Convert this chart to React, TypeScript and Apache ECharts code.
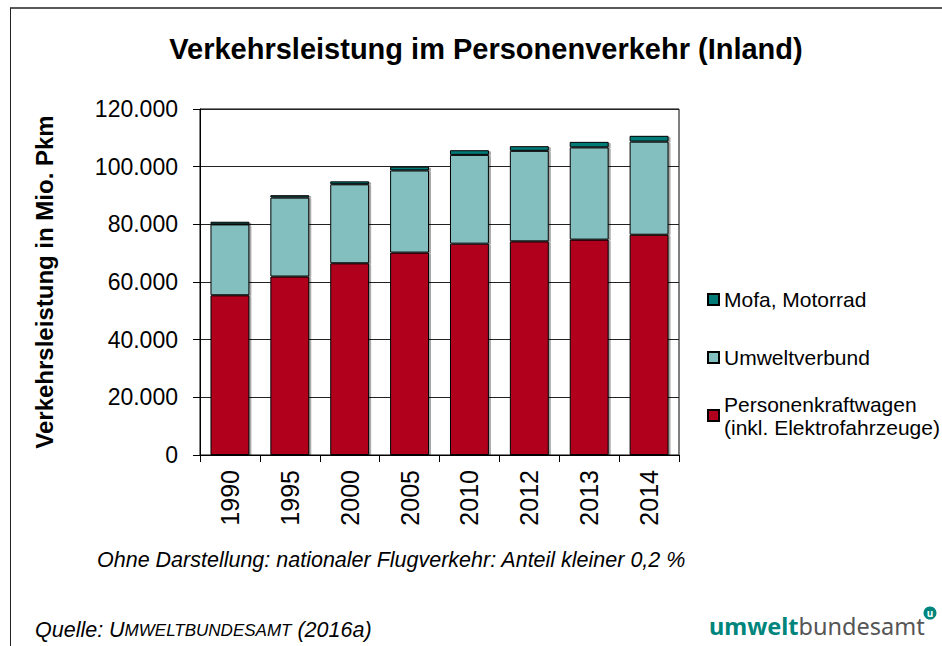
import React, { useEffect, useRef } from "react";
import * as echarts from "echarts";

const years = ["1990", "1995", "2000", "2005", "2010", "2012", "2013", "2014"];
const pkw = [55400, 61900, 66500, 70200, 73300, 74100, 74700, 76400];
const umweltverbund = [24600, 27400, 27400, 28500, 30800, 31400, 32000, 32300];
const mofa = [900, 800, 1000, 1300, 1600, 1600, 1900, 2000];

const FONT = "'Liberation Sans', Arial, sans-serif";

export default function App() {
  const ref = useRef<HTMLDivElement>(null);

  useEffect(() => {
    if (!ref.current) return;
    const chart = echarts.init(ref.current, undefined, { renderer: "svg" });
    const barStyle = (color: string) => ({
      color,
      borderColor: "#000",
      borderWidth: 1,
      shadowColor: "rgba(0,0,0,0.35)",
      shadowOffsetX: 2,
      shadowOffsetY: 1,
      shadowBlur: 1,
    });
    const legendBase = {
      orient: "vertical",
      left: 707,
      padding: 0,
      itemWidth: 11,
      itemHeight: 11,
      icon: "rect",
      selectedMode: false,
      textStyle: { fontFamily: FONT, fontSize: 21, color: "#000" },
    };
    chart.setOption({
      animation: false,
      backgroundColor: "#fff",
      textStyle: { fontFamily: FONT },
      title: {
        text: "Verkehrsleistung im Personenverkehr (Inland)",
        left: 481,
        top: 29,
        textAlign: "center",
        textStyle: { fontFamily: FONT, fontSize: 29, fontWeight: "bold", color: "#000" },
      },
      legend: [
        { ...legendBase, top: 289, data: ["Mofa, Motorrad"] },
        { ...legendBase, top: 347, data: ["Umweltverbund"] },
        {
          ...legendBase,
          top: 381,
          data: ["Personenkraftwagen"],
          formatter: () => "Personenkraftwagen\n(inkl. Elektrofahrzeuge)",
          textStyle: { ...legendBase.textStyle, lineHeight: 23, padding: [23, 0, 0, 0] },
        },
      ],
      grid: {
        left: 200,
        right: 263,
        top: 109,
        bottom: 191,
        show: true,
        borderColor: "#000",
        borderWidth: 1,
        backgroundColor: "transparent",
      },
      xAxis: {
        type: "category",
        data: years,
        axisLine: { lineStyle: { color: "#000", width: 1 } },
        axisTick: { show: true, length: 7, lineStyle: { color: "#000" } },
        axisLabel: {
          rotate: 90,
          margin: 15,
          fontSize: 25,
          fontFamily: FONT,
          color: "#000",
        },
      },
      yAxis: {
        type: "value",
        min: 0,
        max: 120000,
        interval: 20000,
        name: "Verkehrsleistung in Mio. Pkm",
        nameLocation: "middle",
        nameGap: 144,
        nameTextStyle: { fontFamily: FONT, fontSize: 24, fontWeight: "bold", color: "#000" },
        axisLine: { show: true, lineStyle: { color: "#000", width: 1 } },
        axisTick: { show: true, length: 7, lineStyle: { color: "#000" } },
        splitLine: { show: true, lineStyle: { color: "#222", width: 1 } },
        axisLabel: {
          margin: 22,
          fontSize: 23,
          fontFamily: FONT,
          color: "#000",
          formatter: (v: number) => v.toLocaleString("de-DE"),
        },
      },
      series: [
        {
          name: "Personenkraftwagen",
          type: "bar",
          stack: "total",
          barWidth: "65%",
          data: pkw,
          itemStyle: barStyle("#B0001E"),
        },
        {
          name: "Umweltverbund",
          type: "bar",
          stack: "total",
          data: umweltverbund,
          itemStyle: barStyle("#84BFBF"),
        },
        {
          name: "Mofa, Motorrad",
          type: "bar",
          stack: "total",
          data: mofa,
          itemStyle: barStyle("#007B78"),
        },
      ],
      graphic: [
        {
          type: "line",
          shape: { x1: 10, y1: 8, x2: 942, y2: 8 },
          style: { stroke: "#595959", lineWidth: 2 },
          silent: true,
        },
        {
          type: "line",
          shape: { x1: 10.5, y1: 8, x2: 10.5, y2: 646 },
          style: { stroke: "#222", lineWidth: 1 },
          silent: true,
        },
        {
          type: "text",
          left: 97,
          top: 549,
          style: {
            text: "Ohne Darstellung: nationaler Flugverkehr: Anteil kleiner 0,2 %",
            fontFamily: FONT,
            fontSize: 21.5,
            fontStyle: "italic",
            fill: "#000",
          },
        },
        {
          type: "text",
          left: 35,
          top: 619,
          style: {
            text: "{a|Quelle: U}{b|MWELTBUNDESAMT}{a| (2016a)}",
            fontFamily: FONT,
            fill: "#000",
            rich: {
              a: { fontFamily: FONT, fontSize: 21.5, fontStyle: "italic", fill: "#000" },
              b: { fontFamily: FONT, fontSize: 17, fontStyle: "italic", fill: "#000" },
            },
          },
        },
        {
          type: "text",
          left: 709,
          top: 614,
          style: {
            text: "{a|umwelt}{b|bundesamt}",
            rich: {
              a: { fontFamily: "'Noto Sans', sans-serif", fontSize: 23.5, fontWeight: "bold", fill: "#00857D" },
              b: { fontFamily: "'Noto Sans', sans-serif", fontSize: 23.5, fill: "#555" },
            },
          },
        },
        {
          type: "circle",
          shape: { cx: 930, cy: 613, r: 6.5 },
          style: { fill: "#00857D" },
        },
        {
          type: "text",
          x: 930,
          y: 613,
          style: {
            text: "u",
            fontFamily: "'Noto Sans', sans-serif",
            fontSize: 10,
            fontWeight: "bold",
            fill: "#fff",
            align: "center",
            verticalAlign: "middle",
          },
        },
      ],
    });
    return () => chart.dispose();
  }, []);

  return (
    <div
      ref={ref}
      style={{ position: "absolute", left: 0, top: 0, width: 942, height: 646 }}
    />
  );
}
